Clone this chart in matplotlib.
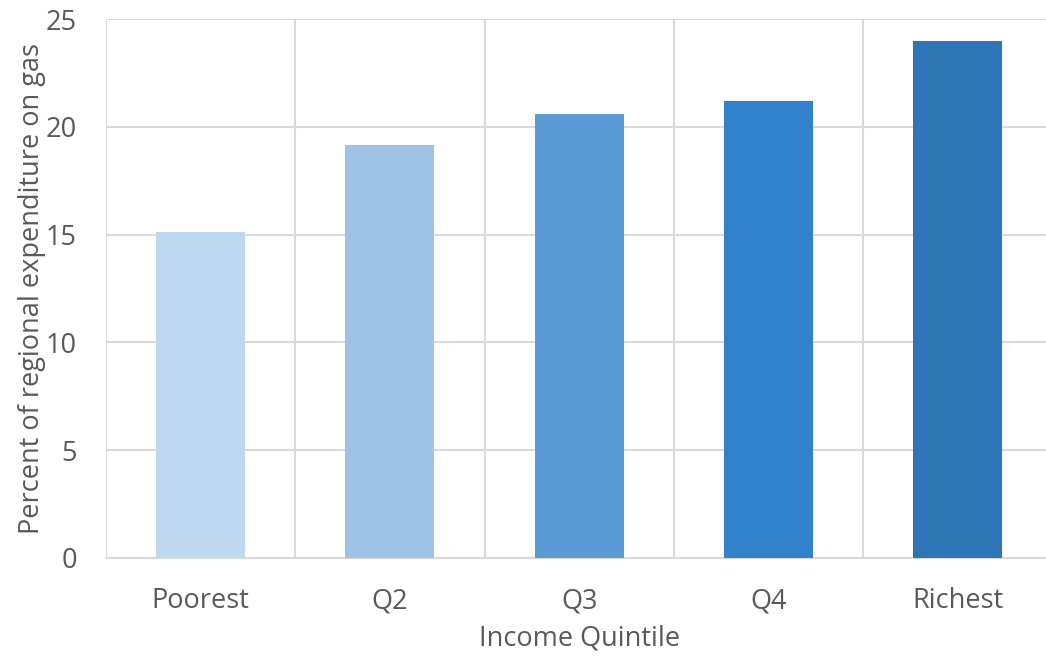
import numpy as np
import matplotlib.pyplot as plt

quintiles = ['Poorest', 'Q2', 'Q3', 'Q4', 'Richest']
gas_share = [15.1, 19.15, 20.6, 21.2, 24.0]
bar_colors = ['#BDD7EE', '#9DC3E6', '#5B9BD5', '#3282CB', '#2E75B6']

plt.rcParams['font.family'] = ['Open Sans', 'DejaVu Sans']
text_color = '#595959'
grid_color = '#D9D9D9'
fs = 19.5

fig = plt.figure(figsize=(10.46, 6.56), dpi=100)
ax = fig.add_axes([0.1013, 0.1494, 0.9049, 0.8216])

x = np.arange(len(quintiles))
ax.bar(x, gas_share, width=0.47, color=bar_colors, zorder=3)

ax.set_xlim(-0.5, len(quintiles) - 0.5)
ax.set_ylim(0, 25)
ax.set_yticks(np.arange(0, 26, 5))
ax.set_xticks(x)
ax.set_xticklabels(quintiles)
ax.set_xticks(np.arange(-0.5, len(quintiles), 1), minor=True)

# grid on both axes: horizontal at values, vertical between categories
ax.grid(axis='y', color=grid_color, linewidth=1.5, zorder=0)
ax.grid(axis='x', which='minor', color=grid_color, linewidth=1.5, zorder=0)
ax.grid(axis='x', which='major', visible=False)

for side in ['top', 'right', 'left']:
    ax.spines[side].set_visible(False)
ax.spines['bottom'].set_color(grid_color)
ax.spines['bottom'].set_linewidth(1.5)

ax.tick_params(axis='both', which='both', length=0, labelsize=fs, colors=text_color)
ax.tick_params(axis='y', pad=21)
ax.tick_params(axis='x', pad=21)

ax.set_xlabel('Income Quintile', fontsize=fs, color=text_color, labelpad=7)
ax.set_ylabel('Percent of regional expenditure on gas', fontsize=fs,
              color=text_color, labelpad=0)

fig.savefig('out.png', dpi=100)
